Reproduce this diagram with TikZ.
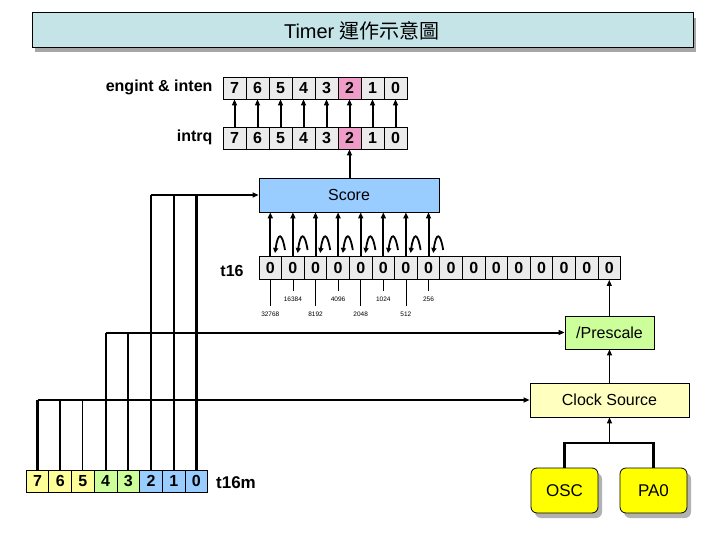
\documentclass[tikz,border=0pt]{standalone}
\usepackage{fontspec}
\setmainfont{Liberation Sans}
\newfontfamily\cjk{Noto Sans CJK TC}
\usetikzlibrary{arrows.meta,shadows,calc}
\definecolor{titlebg}{HTML}{C4E4E8}
\definecolor{cellbg}{HTML}{EBEBEB}
\definecolor{pinkc}{HTML}{F09CC8}
\definecolor{bluec}{HTML}{99CCFF}
\definecolor{greenc}{HTML}{CCFF99}
\definecolor{lyellow}{HTML}{FFFFC0}
\definecolor{yellowc}{HTML}{FFFF00}
\definecolor{t16myel}{HTML}{FFFF99}
\tikzset{
  cell/.style={draw, line width=0.8pt, fill=cellbg, minimum width=22.8pt, minimum height=22pt, inner sep=0pt, font=\bfseries\fontsize{16}{16}\selectfont, anchor=center},
  box/.style={draw, line width=0.8pt, inner sep=0pt, font=\fontsize{16}{16}\selectfont},
  lbl/.style={font=\bfseries\fontsize{16}{16}\selectfont},
  arr/.style={-{Triangle[length=6pt,width=5pt]}, line width=2pt},
  wire/.style={line width=2.2pt},
  tiny/.style={font=\fontsize{6.5}{6.5}\selectfont, inner sep=0pt},
}
\begin{document}
\begin{tikzpicture}[x=1pt,y=-1pt]
\useasboundingbox (0,0) rectangle (720,540);
% title
\fill[gray!70] (35,18) rectangle (696,52);
\node[draw, line width=0.8pt, fill=titlebg, minimum width=661pt, minimum height=35pt, anchor=north west, inner sep=0pt] (title) at (32,12) {};
\node[font=\fontsize{20}{20}\selectfont] (tt) at (362,31) {Timer {\cjk 運作示意圖}};
% engint & intrq
\foreach \b [count=\i from 0] in {7,6,5,4,3,2,1,0} {
  \pgfmathsetmacro\xx{234.5+\i*23}
  \ifnum\b=2
    \node[cell, fill=pinkc, minimum width=23pt] (e\b) at (\xx,88) {\b};
    \node[cell, fill=pinkc, minimum width=23pt] (q\b) at (\xx,138) {\b};
  \else
    \node[cell, minimum width=23pt] (e\b) at (\xx,88) {\b};
    \node[cell, minimum width=23pt] (q\b) at (\xx,138) {\b};
  \fi
  \draw[arr] (q\b.north) -- (e\b.south);
}
\node[lbl, anchor=east] (el) at (216,87) {engint \& inten};
\node[lbl, anchor=east] (ql) at (216,137) {intrq};
% Score
\node[box, fill=bluec, minimum width=180pt, minimum height=34pt] (score) at (349,195) {Score};
\draw[arr] (score.north -| q2) -- (q2.south);
% t16
\foreach \i in {0,...,15} {
  \pgfmathsetmacro\xx{270.3+\i*22.6}
  \node[cell, minimum width=22.6pt, minimum height=23pt] (t\i) at (\xx,268) {0};
}
\node[lbl] (t16l) at (232,271) {t16};
\foreach \i in {0,...,7} {
  \draw[arr] (t\i.north) -- (t\i.north |- score.south);
}
\foreach \i in {0,...,7} {
  \pgfmathsetmacro\hx{275+\i*22.6}
  \draw[-{Triangle[length=5pt,width=5pt]}, line width=1.8pt] (\hx+10,250) .. controls (\hx+7,232) and (\hx+3,232) .. (\hx,253);
}
\foreach \i/\v/\l in {0/32768/36,1/16384/21,2/8192/36,3/4096/21,4/2048/36,5/1024/21,6/512/36,7/256/21} {
  \draw[line width=0.8pt] (t\i.south) -- ++(0,\l-10);
  \node[tiny] (n\i) at ($(t\i.south)+(0,\l-2)$) {\v};
}
% Prescale etc
\node[box, fill=greenc, minimum width=89pt, minimum height=33pt] (pre) at (609.5,332.5) {/Prescale};
\node[box, fill=lyellow, minimum width=159pt, minimum height=34pt] (clk) at (609.5,400) {Clock Source};
\draw[arr, line width=1.2pt] (pre.north -| t15) -- (t15.south);
\draw[arr, line width=1.2pt] (clk.north -| pre) -- (pre.south);
\node[box, draw, fill=yellowc, rounded corners=6pt, minimum width=67pt, minimum height=45pt, font=\fontsize{17}{17}\selectfont, drop shadow={shadow xshift=4pt, shadow yshift=-5pt, fill=gray!60, opacity=1}] (osc) at (564.5,490.5) {OSC};
\node[box, draw, fill=yellowc, rounded corners=6pt, minimum width=67pt, minimum height=45pt, font=\fontsize{17}{17}\selectfont, drop shadow={shadow xshift=4pt, shadow yshift=-5pt, fill=gray!60, opacity=1}] (pa) at (653.5,490.5) {PA0};
\coordinate (j) at (609.5,443);
\draw[wire] (osc.north) |- (j) -| (pa.north);
\draw[arr, line width=1.2pt] (j) -- (clk.south);
% t16m
\foreach \b [count=\i from 0] in {7,6,5,4,3,2,1,0} {
  \pgfmathsetmacro\xx{37.5+\i*22.7}
  \ifnum\b>4 \def\cc{t16myel}\else\ifnum\b>2 \def\cc{greenc}\else\def\cc{bluec}\fi\fi
  \node[cell, fill=\cc, minimum width=22.7pt, minimum height=22pt] (m\b) at (\xx,481) {\b};
}
\node[lbl, font=\bfseries\fontsize{17}{17}\selectfont] (ml) at (236,483) {t16m};
% wires
\coordinate (c7) at (m7.north |- clk.west);
\draw[wire] (m7.north) -- (c7);
\draw[wire] (m6.north) -- (m6.north |- clk.west);
\draw[line width=1pt] (m5.north) -- (m5.north |- clk.west);
\draw[arr] (c7) -- (clk.west);
\coordinate (c4) at (m4.north |- pre.west);
\draw[wire] (m4.north) -- (c4);
\draw[wire] (m3.north) -- (m3.north |- pre.west);
\draw[arr] (c4) -- (pre.west);
\coordinate (c2) at (m2.north |- score.west);
\draw[wire] (m2.north) -- (c2);
\draw[wire] (m1.north) -- (m1.north |- score.west);
\draw[wire] (m0.north) -- (m0.north |- score.west);
\draw[arr] (c2) -- (score.west);
\end{tikzpicture}
\end{document}
